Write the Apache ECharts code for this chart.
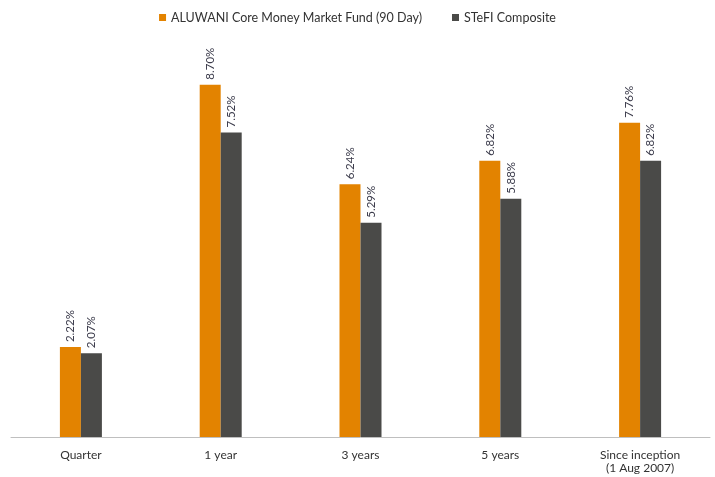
<!DOCTYPE html>
<html><head><meta charset="utf-8">
<script src="https://cdn.jsdelivr.net/npm/echarts@6/dist/echarts.min.js"></script>
<style>html,body{margin:0;padding:0;background:#fff}#c{width:715px;height:477px}</style>
</head><body><div id="c"></div>
<script>
const categories = ['Quarter', '1 year', '3 years', '5 years', 'Since inception\n(1 Aug 2007)'];
const fundName = 'ALUWANI Core Money Market Fund (90 Day)';
const benchName = 'STeFI Composite';
const fundValues = [2.22, 8.70, 6.24, 6.82, 7.76];
const benchValues = [2.07, 7.52, 5.29, 5.88, 6.82];

const font = 'Lato, "Noto Sans", sans-serif';
const label = {
  show: true, position: 'top', rotate: 90, align: 'left', verticalAlign: 'middle',
  distance: 5, color: '#3a3a4a', fontSize: 11.5, fontFamily: font,
  formatter: p => p.value.toFixed(2) + '%'
};
const chart = echarts.init(document.getElementById('c'));
chart.setOption({
  animation: false,
  legend: {
    top: 6, left: 'center', itemWidth: 7, itemHeight: 7, itemGap: 30, icon: 'rect',
    textStyle: { fontSize: 12.5, color: '#333', fontFamily: font },
    data: [fundName, benchName]
  },
  grid: { left: 11, right: 5, top: 32, bottom: 40 },
  xAxis: {
    type: 'category', data: categories,
    axisLine: { lineStyle: { color: '#bfbfbf' } },
    axisTick: { show: false },
    axisLabel: { color: '#333', fontSize: 12, fontFamily: font, margin: 12, lineHeight: 13 }
  },
  yAxis: { type: 'value', min: 0, max: 10, show: false, splitLine: { show: false } },
  series: [
    { name: fundName, type: 'bar', data: fundValues, barWidth: 21, barGap: '0%', itemStyle: { color: '#E38300' }, label },
    { name: benchName, type: 'bar', data: benchValues, barWidth: 21, barGap: '0%', itemStyle: { color: '#4A4A48' }, label }
  ]
});
</script></body></html>
